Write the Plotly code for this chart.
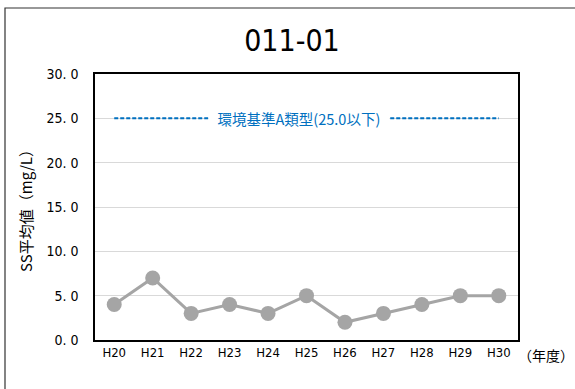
import plotly.graph_objects as go

years = ["H20", "H21", "H22", "H23", "H24", "H25", "H26", "H27", "H28", "H29", "H30"]
ss_values = [4, 7, 3, 4, 3, 5, 2, 3, 4, 5, 5]
standard_value = 25.0
standard_label = "環境基準A類型(25.0以下)"
y_ticks = [0, 5, 10, 15, 20, 25, 30]
y_tick_text = ["0. 0", "5. 0", "10. 0", "15. 0", "20. 0", "25. 0", "30. 0"]

LATIN = "DejaVu Sans Condensed, Noto Sans CJK JP, sans-serif"
CJK = "Noto Sans CJK JP, sans-serif"

fig = go.Figure()
fig.add_trace(go.Scatter(
    x=years, y=[standard_value] * len(years), mode="lines",
    line=dict(color="#0070C0", width=2, dash="4px,2px"),
    hoverinfo="skip", showlegend=False))
fig.add_trace(go.Scatter(
    x=years, y=ss_values, mode="lines+markers",
    line=dict(color="#A5A5A5", width=3),
    marker=dict(color="#A5A5A5", size=15),
    showlegend=False))

fig.add_annotation(x=0.482, xref="paper", y=standard_value, yref="y",
                   text="  " + standard_label + "  ", showarrow=False,
                   font=dict(family=CJK, size=14.5, color="#0070C0"),
                   bgcolor="white", borderpad=2)
fig.add_annotation(x=(576 - 95) / 423, xref="paper", xanchor="right", y=-0.012, yref="paper",
                   yanchor="top", text="（年度）", showarrow=False,
                   font=dict(family=CJK, size=14, color="black"))

# outer frame
fig.add_shape(type="rect", xref="paper", yref="paper",
              x0=(5 - 95) / 423, x1=1.3, y0=-0.3, y1=1 + (74 - 8) / 266,
              line=dict(color="#333333", width=1.2), layer="below")

fig.update_layout(
    width=575, height=389,
    margin=dict(l=95, r=57, t=74, b=49, autoexpand=False),
    paper_bgcolor="white", plot_bgcolor="white",
    title=dict(text="011-01", x=(292) / 575, xanchor="center", y=1 - 40 / 389, yanchor="middle",
               font=dict(family=LATIN, size=30, color="black")),
    font=dict(family=LATIN, size=13, color="black"),
    xaxis=dict(showgrid=False, showline=True, linecolor="black", linewidth=1.5,
               mirror=True, ticks="", tickfont=dict(size=13), range=[-0.5, 10.5],
               automargin=False),
    yaxis=dict(range=[0, 30], tickvals=y_ticks, ticktext=y_tick_text,
               showgrid=True, gridcolor="#D9D9D9", gridwidth=1,
               showline=True, linecolor="black", linewidth=1.5, mirror=True,
               ticks="", ticklabelstandoff=12, tickfont=dict(size=14),
               zeroline=False, automargin=False,
               title=dict(text="SS平均値（mg/L）", standoff=10,
                          font=dict(family=CJK, size=15))),
)

fig.write_html("out.html", config={"displayModeBar": False},
               post_script="document.body.style.margin='0';document.body.style.overflow='hidden';")
